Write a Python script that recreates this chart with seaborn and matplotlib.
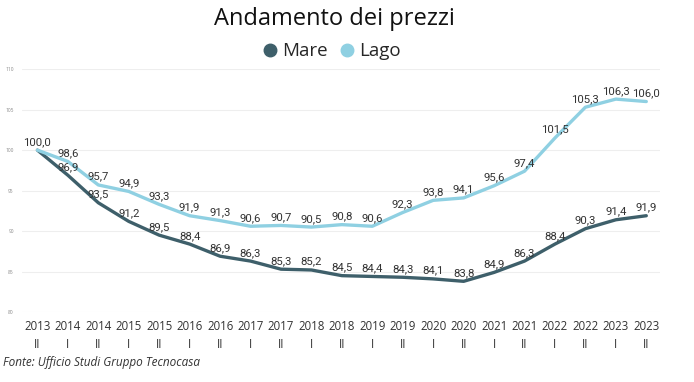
import matplotlib
matplotlib.use("Agg")
import matplotlib.pyplot as plt
import seaborn as sns
import pandas as pd

# ── Data ──────────────────────────────────────────────────────────────────────
years = ["2013", "2014", "2014", "2015", "2015", "2016", "2016", "2017", "2017",
         "2018", "2018", "2019", "2019", "2020", "2020", "2021", "2021", "2022",
         "2022", "2023", "2023"]
halves = ["II", "I", "II", "I", "II", "I", "II", "I", "II", "I", "II",
          "I", "II", "I", "II", "I", "II", "I", "II", "I", "II"]
mare = [100.0, 96.9, 93.5, 91.2, 89.5, 88.4, 86.9, 86.3, 85.3, 85.2, 84.5,
        84.4, 84.3, 84.1, 83.8, 84.9, 86.3, 88.4, 90.3, 91.4, 91.9]
lago = [100.0, 98.6, 95.7, 94.9, 93.3, 91.9, 91.3, 90.6, 90.7, 90.5, 90.8,
        90.6, 92.3, 93.8, 94.1, 95.6, 97.4, 101.5, 105.3, 106.3, 106.0]
y_ticks = [80, 85, 90, 95, 100, 105, 110]

COLORS = {"Mare": "#3e5f6a", "Lago": "#8fd0e2"}

n = len(years)
df = pd.concat([
    pd.DataFrame({"idx": range(n), "valore": mare, "serie": "Mare"}),
    pd.DataFrame({"idx": range(n), "valore": lago, "serie": "Lago"}),
])

sns.set_theme(style="white")
plt.rcParams["font.family"] = ["Open Sans", "DejaVu Sans"]

fig = plt.figure(figsize=(6.94, 3.82), dpi=100)
ax = fig.add_axes([0.032, 0.183, 0.919, 0.636])

sns.lineplot(data=df, x="idx", y="valore", hue="serie", palette=COLORS,
             linewidth=2.4, ax=ax, legend=False)

# ── Data labels ───────────────────────────────────────────────────────────────
for name, vals in [("Lago", lago), ("Mare", mare)]:
    for i, v in enumerate(vals):
        if name == "Mare" and i == 0:
            continue
        ax.annotate(f"{v:.1f}".replace(".", ","), (i, v),
                    xytext=(0, 6), textcoords="offset points",
                    ha="center", va="center", fontsize=8.2,
                    color="#333333", family=["Roboto", "DejaVu Sans"])

ax.set_xlim(-0.5, 20.45)
ax.set_ylim(80, 110)
ax.set_yticks(y_ticks)
ax.set_yticklabels([str(t) for t in y_ticks], fontsize=3.5, color="#888888")
ax.set_xticks(range(n))
ax.set_xticklabels([f"{y}\n{h}" for y, h in zip(years, halves)],
                   fontsize=8.3, color="#333333", linespacing=1.45)
ax.tick_params(axis="x", length=0, pad=6)
ax.tick_params(axis="y", length=0, pad=6)
ax.set_xlabel("")
ax.set_ylabel("")
ax.grid(axis="y", color="#eeeeee", linewidth=0.8)
ax.grid(axis="x", visible=False)
sns.despine(ax=ax, left=True, bottom=True)

# ── Title, legend, source ─────────────────────────────────────────────────────
fig.text(0.482, 0.95, "Andamento dei prezzi", ha="center", va="center",
         fontsize=17, color="#111111")
handles = [plt.Line2D([], [], marker="o", linestyle="", markersize=9,
                      color=COLORS[k]) for k in ["Mare", "Lago"]]
fig.legend(handles, ["Mare", "Lago"], loc="center", bbox_to_anchor=(0.478, 0.866),
           ncol=2, frameon=False, fontsize=13.5, handlelength=0.8,
           handletextpad=0.25, columnspacing=0.6)
fig.text(0.004, 0.05, "Fonte: Ufficio Studi Gruppo Tecnocasa", ha="left",
         va="center", fontsize=8.5, style="italic", color="#333333")

plt.savefig("out.png", dpi=100)
